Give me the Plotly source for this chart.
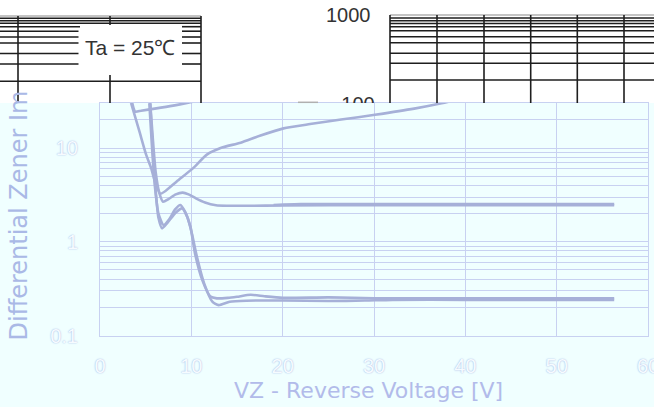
import plotly.graph_objects as go

W, H = 654, 407

# ---------------- data ----------------
# Curve A : low-voltage device, rises after its minimum
a_v = [3.4, 4.3, 5.05, 5.6, 5.95, 6.3, 6.6, 7.2, 8.4, 10.2, 11.7, 13.2, 15.4, 17.5, 20.1, 23.0, 26.4, 30.1, 34.4, 37.4, 42.0]
a_z = [30.2, 15.2, 8.5, 6.1, 4.6, 3.7, 3.25, 3.5, 4.4, 6.1, 8.5, 10.0, 11.4, 13.5, 16.2, 18.0, 20.1, 22.6, 26.3, 30.0, 38.0]
# Curve F : upper curve around 25-30 ohm
f_v = [3.5, 3.85, 4.5, 6.0, 8.0, 9.9, 12.0]
f_z = [31.0, 24.5, 25.0, 26.3, 28.3, 30.8, 34.0]
# Curve B : settles near 2.4 ohm
b_v = [5.5, 5.8, 6.1, 6.5, 6.9, 7.5, 8.3, 9.05, 9.7, 10.5, 11.5, 12.7, 14.0, 16.0, 20.0, 30.0, 40.0, 50.0, 56.3]
b_z = [30.0, 12.0, 5.5, 3.3, 2.67, 2.85, 3.2, 3.34, 3.2, 2.9, 2.62, 2.45, 2.42, 2.42, 2.44, 2.45, 2.45, 2.45, 2.45]
b2_v = [19.0, 22.0, 25.0, 30.0, 40.0, 50.0, 56.3]
b2_z = [2.47, 2.52, 2.53, 2.53, 2.53, 2.53, 2.53]
# Curves C / D : settle near 0.25 ohm
c_v = [5.4, 5.7, 6.0, 6.4, 6.95, 7.6, 8.2, 8.8, 9.3, 9.9, 10.4, 11.2, 12.1, 12.8, 14.0, 15.0, 16.5, 18.0, 20.0, 25.0, 30.0, 40.0, 50.0, 56.3]
c_z = [30.0, 10.0, 4.0, 2.0, 1.51, 1.75, 2.2, 2.47, 2.1, 1.45, 0.75, 0.39, 0.26, 0.249, 0.252, 0.259, 0.272, 0.262, 0.252, 0.255, 0.250, 0.250, 0.250, 0.250]
d_v = [5.5, 5.8, 6.1, 6.4, 6.8, 7.4, 8.3, 9.0, 9.5, 10.0, 10.6, 11.4, 12.3, 13.0, 14.2, 16.0, 20.0, 25.0, 29.0, 32.0, 40.0, 50.0, 56.3]
d_z = [30.0, 9.0, 3.5, 1.8, 1.39, 1.6, 2.05, 2.27, 1.9, 1.3, 0.7, 0.36, 0.23, 0.211, 0.229, 0.235, 0.236, 0.233, 0.236, 0.240, 0.240, 0.240, 0.240]

x_tick_vals = [0, 10, 20, 30, 40, 50, 60]
x_tick_text = ["0", "10", "20", "30", "40", "50", "60"]
y_grid_vals = [0.1, 0.2, 0.3, 0.4, 0.5, 0.6, 0.7, 0.8, 0.9,
               1, 2, 3, 4, 5, 6, 7, 8, 9, 10, 20, 30]
y_grid_text = ["0.1", "", "", "", "", "", "", "", "",
               "1", "", "", "", "", "", "", "", "", "10", "", ""]

x_title = "VZ - Reverse Voltage [V]"
y_title = "Differential Zener Im"

# ---------------- styling helpers ----------------
def px(x):
    return x / W

def py(y):
    return 1 - y / H

LINE = "#a6b0d8"
GRID = "#c8d1f1"
AZURE = "#f0ffff"
BLACK = "#1e1e1e"

fig = go.Figure()

for v, z in [(a_v, a_z), (f_v, f_z), (b_v, b_z), (b2_v, b2_z), (c_v, c_z), (d_v, d_z)]:
    fig.add_trace(go.Scatter(x=v, y=z, mode="lines",
                             line=dict(color=LINE, width=2.6, shape="spline", smoothing=0.6),
                             hoverinfo="skip", showlegend=False))

# clipped label of the background picture (only its top shows above the panel)
fig.add_trace(go.Scatter(x=[358], y=[H - 105.5], mode="text", text=["100"],
                         textfont=dict(family="Liberation Sans, Arial", size=20, color="#333333"),
                         xaxis="x2", yaxis="y2", cliponaxis=True,
                         hoverinfo="skip", showlegend=False))

shapes = []
# panel background
shapes.append(dict(type="rect", xref="paper", yref="paper", x0=0, x1=1, y0=0, y1=py(103),
                   fillcolor=AZURE, line=dict(width=0), layer="below"))

def hline(y, x0, x1, color=BLACK, w=1.6):
    shapes.append(dict(type="line", xref="paper", yref="paper", x0=px(x0), x1=px(x1),
                       y0=py(y), y1=py(y), line=dict(color=color, width=w), layer="above"))

def vline(x, y0, y1, color=BLACK, w=1.6):
    shapes.append(dict(type="line", xref="paper", yref="paper", x0=px(x), x1=px(x),
                       y0=py(y0), y1=py(y1), line=dict(color=color, width=w), layer="above"))

# top-left picture fragment
hline(16, 0, 201, color="#8a8a8a", w=1.2)
for y in [18.3, 20.7, 23.3, 81.3]:
    hline(y, 0, 201)
for y in [26.7, 31.2, 37.0, 43.0, 53.5, 64.0]:
    hline(y, 0, 80)
    hline(y, 182, 201)
vline(18, 16, 103)
vline(110, 16, 25)
vline(110, 75, 103)
vline(201, 16, 103)

# top-right picture fragment
hline(15, 390, 654, color="#8a8a8a", w=1.2)
for y in [18.0, 20.7, 23.5, 26.7, 30.7, 36.7, 42.7, 53.3, 63.3, 80.0]:
    hline(y, 390, 654)
for x in [390, 437, 484, 530.7, 577.3, 624]:
    vline(x, 15, 103)
hline(102.3, 298, 318, color="#b0b0b0", w=1.5)

tick_font = dict(family="Liberation Sans, Arial", size=20, color="#f6fbff",
                 shadow="0px 0px 1.5px #8fa3dc")

fig.update_layout(
    width=W, height=H,
    margin=dict(l=0, r=0, t=0, b=0),
    paper_bgcolor="white",
    plot_bgcolor="rgba(0,0,0,0)",
    showlegend=False,
    hovermode=False,
    shapes=shapes,
    xaxis=dict(domain=[px(100), px(648)], range=[0, 60], tickvals=x_tick_vals, ticktext=x_tick_text,
               showgrid=True, gridcolor=GRID, gridwidth=1, zeroline=False,
               showline=True, linecolor=GRID, linewidth=1, mirror=True,
               ticks="", ticklabelstandoff=12, tickfont=tick_font, automargin=False,
               ticklabeloverflow="allow"),
    yaxis=dict(domain=[py(335.5), py(103)], type="log", range=[-1, 1.48],
               tickvals=y_grid_vals, ticktext=y_grid_text,
               showgrid=True, gridcolor=GRID, gridwidth=1, zeroline=False,
               showline=True, linecolor=GRID, linewidth=1, mirror=True,
               ticks="", ticklabelstandoff=17, tickfont=tick_font, automargin=False,
               ticklabeloverflow="allow"),
    xaxis2=dict(domain=[0, 1], range=[0, W], visible=False, anchor="y2"),
    yaxis2=dict(domain=[py(103), 1], range=[H - 103, H], visible=False, anchor="x2"),
    annotations=[
        dict(text="Ta = 25℃", xref="paper", yref="paper", x=px(130), y=py(47),
             showarrow=False, font=dict(family="Liberation Sans, Arial", size=21, color="#333333"),
             bgcolor="white", borderpad=6, xanchor="center", yanchor="middle"),
        dict(text="1000", xref="paper", yref="paper", x=px(373), y=py(15),
             showarrow=False, font=dict(family="Liberation Sans, Arial", size=20, color="#333333"),
             xanchor="right", yanchor="middle"),
        dict(text=x_title, xref="paper", yref="paper", x=px(368), y=py(390),
             showarrow=False, font=dict(family="DejaVu Sans", size=22, color="#b2bbea"),
             xanchor="center", yanchor="middle"),
        dict(text=y_title, xref="paper", yref="paper", x=px(18.5), y=py(343),
             textangle=-90, showarrow=False,
             font=dict(family="DejaVu Sans", size=24, color="#aab9e6"),
             xanchor="center", yanchor="bottom"),
    ],
)

fig.write_html("out.html", config={"displayModeBar": False, "staticPlot": True},
               post_script="document.body.style.margin='0';document.body.style.padding='0';")
